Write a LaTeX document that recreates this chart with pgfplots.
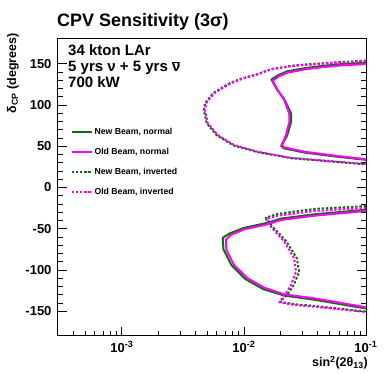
\documentclass[border=0pt]{standalone}
\usepackage{fontspec}
\setmainfont{Liberation Sans}
\usepackage{pgfplots}
\pgfplotsset{compat=1.18}
\definecolor{newgreen}{HTML}{0A6E0A}
\definecolor{oldmag}{HTML}{FF00FF}
\newcommand{\fs}[1]{\fontsize{#1}{#1}\selectfont}

\begin{document}
\begin{tikzpicture}[x=1pt,y=1pt]
\useasboundingbox (0,0) rectangle (385,374);
\begin{axis}[
  at={(58pt,38pt)},anchor=south west,
  scale only axis,width=308pt,height=297pt,
  xmode=log,xmin=3e-4,xmax=0.1,ymin=-180,ymax=180,
  xtick={1e-3,1e-2,1e-1},
  xticklabels={10\textsuperscript{-3},10\textsuperscript{-2},10\textsuperscript{-1}},
  minor xtick={4e-4,5e-4,6e-4,7e-4,8e-4,9e-4,2e-3,3e-3,4e-3,5e-3,6e-3,7e-3,8e-3,9e-3,2e-2,3e-2,4e-2,5e-2,6e-2,7e-2,8e-2,9e-2},
  ytick={-150,-100,-50,0,50,100,150},
  yticklabels={-150,-100,-50,0,50,100,150},
  minor y tick num=4,
  tick align=inside,xtick pos=left,ytick pos=both,
  major tick length=9pt,minor tick length=5pt,
  tick style={black,line width=0.8pt},
  axis line style={line width=1pt},
  ticklabel style={font=\bfseries\fs{13}},
  yticklabel style={xshift=-3pt},
  xticklabel style={yshift=-2pt},
  legend style={draw=none,fill=none,at={(0.04,0.708)},anchor=north west,
    font=\bfseries\fs{8.7},row sep=8.2pt,inner sep=0pt},
  legend cell align=left,
  legend image code/.code={\draw[#1] (0pt,0pt) -- (20pt,0pt);},
  every axis plot/.append style={line width=2pt,line join=round},
]
% New beam, normal hierarchy
\addplot[newgreen] coordinates {
 (0.1,151.2) (0.06,149.3) (0.0428,147.2) (0.031,144.5) (0.0225,140.7)
 (0.019,136) (0.0168,131) (0.0186,119) (0.0214,107) (0.0243,90)
 (0.0244,80) (0.0226,63) (0.0202,50.5) (0.0212,47.5) (0.0312,42.4)
 (0.0586,37.2) (0.1,33.5)};
\addlegendentry{New Beam, normal}
% Old beam, normal hierarchy
\addplot[oldmag] coordinates {
 (0.1,149.7) (0.06,147.8) (0.0428,145.7) (0.031,143) (0.0228,139.2)
 (0.0195,135) (0.0172,129.5) (0.0189,118) (0.0214,106) (0.0235,90)
 (0.0236,80) (0.0221,63.6) (0.0204,51.5) (0.0214,48.7) (0.0312,43.4)
 (0.0586,38.2) (0.1,34.2)};
\addlegendentry{Old Beam, normal}
% New beam, inverted hierarchy
\addplot[newgreen,dash pattern=on 2.4pt off 1.8pt] coordinates {
 (0.1,153.8) (0.0586,151.8) (0.0312,149) (0.0243,147.5) (0.0166,143.5)
 (0.0129,137.5) (0.0098,132.5) (0.0077,126.8) (0.0056,114.5) (0.0048,102)
 (0.0047,94) (0.00495,78) (0.006,63.2) (0.0082,51) (0.0128,43)
 (0.0243,35.5) (0.0586,30.8) (0.1,28)};
\addlegendentry{New Beam, inverted}
% Old beam, inverted hierarchy
\addplot[oldmag,dash pattern=on 2.4pt off 1.8pt] coordinates {
 (0.1,153.3) (0.0586,151.3) (0.0312,148.5) (0.0243,147) (0.0166,143)
 (0.0129,137) (0.0098,132) (0.0078,126.3) (0.0057,114.2) (0.0049,102)
 (0.0048,94) (0.00505,78) (0.0061,63.6) (0.0083,51.5) (0.0129,43.4)
 (0.0243,36) (0.0586,31.3) (0.1,28.5)};
\addlegendentry{Old Beam, inverted}
% lower branches
\addplot[newgreen,forget plot] coordinates {
 (0.1,-27) (0.0377,-32.5) (0.0201,-37.7) (0.0156,-42.8) (0.01,-49)
 (0.0077,-55.5) (0.0067,-61) (0.0068,-75) (0.0079,-94) (0.0103,-111)
 (0.0143,-123) (0.0214,-131) (0.0377,-136) (0.094,-146) (0.1,-146.5)};
\addplot[oldmag,forget plot] coordinates {
 (0.1,-28.5) (0.0377,-34.2) (0.0201,-39.4) (0.0156,-44.6) (0.01,-50.7)
 (0.0078,-57.6) (0.0071,-63.6) (0.0072,-75.8) (0.0083,-94) (0.0107,-110)
 (0.0147,-121.5) (0.0214,-129.5) (0.0377,-134.3) (0.094,-144.5) (0.1,-145)};
\addplot[newgreen,dash pattern=on 2.4pt off 1.8pt,forget plot] coordinates {
 (0.1,-22.5) (0.0377,-26) (0.0189,-32) (0.0151,-36.5) (0.0168,-46)
 (0.0222,-65) (0.0272,-86) (0.0283,-102) (0.0257,-118) (0.0231,-128)
 (0.0198,-138.5) (0.0258,-141.5) (0.0377,-143.5) (0.094,-150) (0.1,-150.5)};
\addplot[oldmag,dash pattern=on 2.4pt off 1.8pt,forget plot] coordinates {
 (0.1,-24.8) (0.0377,-28.5) (0.0189,-34.2) (0.0151,-38.2) (0.0166,-47.5)
 (0.0214,-65.7) (0.0258,-85.8) (0.0267,-102) (0.0243,-118.2) (0.0221,-128.2)
 (0.0195,-139.1) (0.0258,-142.4) (0.0377,-144.5) (0.094,-150.5) (0.1,-151)};
\end{axis}
\node[anchor=base west,font=\bfseries\fs{18},inner sep=0pt] at (57,347.5) {CPV Sensitivity (3σ)};
\node[anchor=base west,font=\bfseries\fs{15},inner sep=0pt] at (68,318) {34 kton LAr};
\node[anchor=base west,font=\bfseries\fs{15},inner sep=0pt] at (68,302.3) {5 yrs ν + 5 yrs \ensuremath{\overline{\mbox{ν}}}};
\node[anchor=base west,font=\bfseries\fs{15},inner sep=0pt] at (68,286.7) {700 kW};
\node[rotate=90,anchor=base east,font=\bfseries\fs{12.5},inner sep=0pt] at (16,341) {δ\textsubscript{CP} (degrees)};
\node[anchor=base east,font=\bfseries\fs{12.5},inner sep=0pt] at (368,7.5) {sin\textsuperscript{2}(2θ\textsubscript{13})};
\end{tikzpicture}
\end{document}
